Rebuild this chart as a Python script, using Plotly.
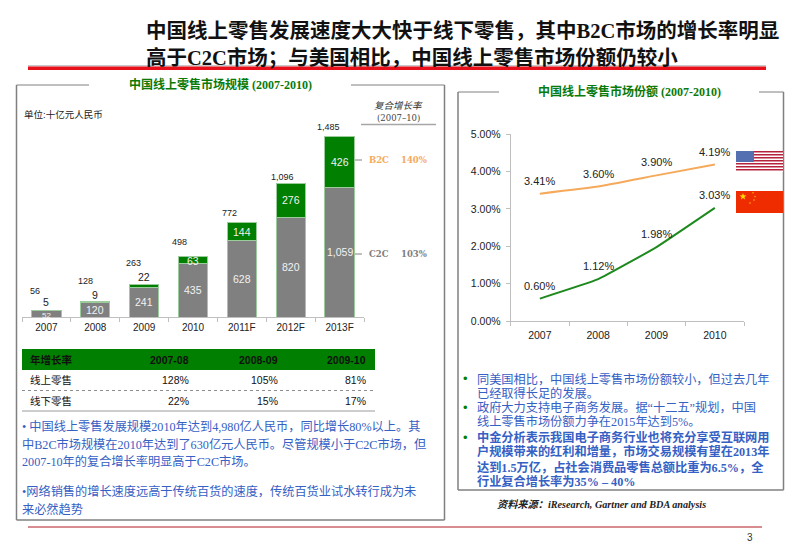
import math
import plotly.graph_objects as go

W, H = 800, 553

# ---------- data ----------
years_left = ["2007", "2008", "2009", "2010", "2011F", "2012F", "2013F"]
c2c = [52, 120, 241, 435, 628, 820, 1059]
b2c = [5, 9, 22, 63, 144, 276, 426]
totals = [56, 128, 263, 498, 772, 1096, 1485]

years_right = ["2007", "2008", "2009", "2010"]
us_share = [3.41, 3.60, 3.90, 4.19]
cn_share = [0.60, 1.12, 1.98, 3.03]
share_ticks = [0, 1, 2, 3, 4, 5]

table_header = ["年增长率", "2007-08", "2008-09", "2009-10"]
table_online = ["线上零售", "128%", "105%", "81%"]
table_offline = ["线下零售", "22%", "15%", "17%"]

title_lines = ["中国线上零售发展速度大大快于线下零售，其中B2C市场的增长率明显",
               "高于C2C市场；与美国相比，中国线上零售市场份额仍较小"]
left_notes = ["• 中国线上零售发展规模2010年达到4,980亿人民币，同比增长80%以上。其",
              "中B2C市场规模在2010年达到了630亿元人民币。尽管规模小于C2C市场，但",
              "2007-10年的复合增长率明显高于C2C市场。",
              "•网络销售的增长速度远高于传统百货的速度，传统百货业试水转行成为未",
              "来必然趋势"]
right_notes = ["同美国相比，中国线上零售市场份额较小，但过去几年",
               "已经取得长足的发展。",
               "政府大力支持电子商务发展。据“十二五”规划，中国",
               "线上零售市场份额力争在2015年达到5%。",
               "中金分析表示我国电子商务行业也将充分享受互联网用",
               "户规模带来的红利和增量，市场交易规模有望在2013年",
               "达到1.5万亿，占社会消费品零售总额比重为6.5%，全",
               "行业复合增长率为35% – 40%"]

# ---------- style / placement ----------
GREEN = "#007F00"
GREY = "#808080"
ORANGE = "#F5A95B"
LINE_GREEN = "#1E8A1E"
BLUE = "#3560C4"
CJK = "Noto Sans CJK SC"
SERIF = f"Liberation Serif, {CJK}"
SANS = f"Liberation Sans, {CJK}"
MONO = f"DejaVu Serif, {CJK}"

total_dx = [-11, -10, -11, -14, -12, -8, -11]
total_dy = [19, 20, 22, 14, 10, 6, 9]
b2c_dy = [8, 7, 9, -1, 0, 0, 0]
c2c_dy = [-2, 0, 0, 0, 0, 0, 0]

def px(x):
    return x / W

def py(y):
    return 1 - y / H

annotations = []
shapes = []

def text(x, y, s, size, color="#222", anchor="left", bold=False, italic=False,
         family=SERIF):
    if bold:
        s = f"<b>{s}</b>"
    if italic:
        s = f"<i>{s}</i>"
    font = dict(size=size, color=color, family=family)
    annotations.append(dict(x=px(x), y=py(y), xref="paper", yref="paper", text=s,
                            showarrow=False, xanchor=anchor, yanchor="middle",
                            font=font, borderpad=0, borderwidth=0))

def line(x0, y0, x1, y1, color, width=1, dash="solid"):
    shapes.append(dict(type="line", xref="paper", yref="paper", x0=px(x0), x1=px(x1),
                       y0=py(y0), y1=py(y1), line=dict(color=color, width=width, dash=dash)))

def rect(x0, y0, x1, y1, color):
    shapes.append(dict(type="rect", xref="paper", yref="paper", x0=px(x0), x1=px(x1),
                       y0=py(y0), y1=py(y1), fillcolor=color, line=dict(width=0), layer="above"))

def star(cx, cy, r, color="#FFD800"):
    pts = []
    for i in range(10):
        a = -math.pi / 2 + i * math.pi / 5
        rr = r if i % 2 == 0 else r * 0.4
        pts.append((px(cx + rr * math.cos(a)), py(cy + rr * math.sin(a))))
    path = "M" + " L".join(f"{a:.5f},{b:.5f}" for a, b in pts) + " Z"
    shapes.append(dict(type="path", xref="paper", yref="paper", path=path,
                       fillcolor=color, line=dict(width=0), layer="above"))

# ---------- figure ----------
xl = list(range(len(years_left)))
xr = list(range(len(years_right)))

fig = go.Figure()
fig.add_bar(x=xl, y=c2c, marker=dict(color=GREY, line=dict(color="#9CCB9C", width=1)),
            xaxis="x", yaxis="y", width=0.6, hoverinfo="skip")
fig.add_bar(x=xl, y=b2c, marker=dict(color=GREEN, line=dict(color="#9CCB9C", width=1)),
            xaxis="x", yaxis="y", width=0.6, hoverinfo="skip")
fig.add_scatter(x=xr, y=us_share, mode="lines", xaxis="x2", yaxis="y2",
                line=dict(color=ORANGE, width=2, shape="spline", smoothing=0.3), hoverinfo="skip")
fig.add_scatter(x=xr, y=cn_share, mode="lines", xaxis="x2", yaxis="y2",
                line=dict(color=LINE_GREEN, width=2, shape="spline", smoothing=0.3), hoverinfo="skip")

# bar labels
for i in xl:
    annotations.append(dict(x=i, y=c2c[i] / 2, xref="x", yref="y", text=f"{c2c[i]:,}", showarrow=False,
                            yanchor="middle", yshift=c2c_dy[i],
                            font=dict(size=10.5 if c2c_dy[i] == 0 else 8, color="#F2F2F2", family=SANS)))
    annotations.append(dict(x=i, y=c2c[i] + b2c[i] / 2, xref="x", yref="y", text=str(b2c[i]), showarrow=False,
                            yshift=b2c_dy[i], yanchor="middle",
                            font=dict(size=10.5, color="#F2F2F2" if b2c_dy[i] <= 0 else "#222", family=SANS)))
    annotations.append(dict(x=i, y=totals[i], xref="x", yref="y", text=f"{totals[i]:,}", showarrow=False,
                            xshift=total_dx[i], yshift=total_dy[i], yanchor="middle",
                            font=dict(size=9, color="#222", family=SANS)))

# line labels
for series in (us_share, cn_share):
    for i in xr:
        annotations.append(dict(x=i, y=series[i], xref="x2", yref="y2", text=f"{series[i]:.2f}%", showarrow=False,
                                yshift=13, yanchor="middle", font=dict(size=11, color="#222", family=SANS)))

# header
text(146, 31, title_lines[0], 20.5, "#111", bold=True)
text(146, 57, title_lines[1], 20.5, "#111", bold=True)
rect(28, 65, 766, 66.5, "#C9C9C9")
rect(28, 66.5, 766, 70, "#E8101A")

# left panel frame
box = "#808080"
line(16.5, 85, 89, 85, box)
line(351, 85, 444.5, 85, box)
line(16.5, 85, 16.5, 520, box, 1.5)
line(444.5, 85, 444.5, 520, box, 1.5)
line(16.5, 520, 444.5, 520, box, 1.5)
text(220, 85, "<b>中国线上零售市场规模</b> <b>(2007-2010)</b>", 12, "#0A7A0A", "center")

# right panel frame
line(458, 92, 499, 92, box)
line(759, 92, 783.5, 92, box)
line(458, 92, 458, 490, box, 1.5)
line(783.5, 92, 783.5, 490, box, 1.5)
line(458, 490, 783.5, 490, box, 1.5)
text(629, 91, "<b>中国线上零售市场份额</b> <b>(2007-2010)</b>", 12, "#0A7A0A", "center")

# left chart notes
text(24, 114, "单位:十亿元人民币", 9.5, "#222", family=SANS)
text(398, 105, "复合增长率", 9.5, "#333", "center", italic=True, family=SANS)
text(398, 118, "(2007–10)", 8.5, "#444", "center", family=MONO)
line(361, 124.5, 436, 124.5, "#A6A6A6", 1.5)
line(355, 160, 362, 160, "#808080")
line(355, 254, 362, 254, "#808080")
text(369, 160, "B2C", 8.5, ORANGE, bold=True, family=MONO)
text(427, 160, "140%", 8.5, ORANGE, "right", bold=True, family=MONO)
text(369, 254, "C2C", 8.5, GREY, bold=True, family=MONO)
text(427, 254, "103%", 8.5, GREY, "right", bold=True, family=MONO)

# table
rect(22, 349, 375, 370, GREEN)
col_x = [189, 278, 366]
for row, y, bold in ((table_header, 360, True), (table_online, 380, False), (table_offline, 401, False)):
    c = "#111"
    text(30, y, row[0], 10.5, c, bold=bold, family=SANS)
    for cx, v in zip(col_x, row[1:]):
        text(cx, y, v, 10.5, c, "right", bold=bold, family=SANS)
line(22, 390.5, 375, 390.5, "#8C8C8C", 1, "dot")
line(22, 411, 375, 411, "#BDBDBD", 1.5)

# left notes
for y, s in zip([426, 444, 461, 491, 509], left_notes):
    text(22, y, s, 12.2, BLUE)

# right notes
right_y = [379, 393, 407, 421, 437, 451, 467, 481]
for i, (y, s) in enumerate(zip(right_y, right_notes)):
    text(477, y, s, 12.2, BLUE, bold=i >= 4)
for y in (378, 407, 437):
    text(465, y, "•", 13, GREEN, "center", family=SANS)

text(497, 504, "资料来源：iResearch, Gartner and BDA analysis", 10.2, "#222", bold=True, italic=True)

# footer
line(28, 527, 762, 527, "#B01C22", 1)
text(750, 537, "3", 10, "#333", "center", family=SANS)

# flags
rect(736, 151, 783, 172, "#FFFFFF")
for k in range(7):
    rect(736, 151 + k * 3, 783, 152.5 + k * 3, "#B5223C")
rect(736, 151, 754, 162, "#5470B0")
rect(736, 191, 783, 213, "#EE2C00")
star(743, 196.5, 3.6)
for cx, cy in [(753, 192.8), (755, 196.5), (754, 200), (750, 203)]:
    star(cx, cy, 1.1)

axis_grey = "#BFBFBF"
fig.update_layout(
    width=W, height=H, margin=dict(l=0, r=0, t=0, b=0, pad=0, autoexpand=False), autosize=False,
    paper_bgcolor="white", plot_bgcolor="rgba(0,0,0,0)", showlegend=False, barmode="stack",
    annotations=annotations, shapes=shapes,
    xaxis=dict(domain=[px(22), px(364)], range=[-0.5, len(xl) - 0.5], tickmode="array", tickvals=xl,
               ticktext=years_left, ticks="", showline=True, linecolor=axis_grey, showgrid=False, zeroline=False,
               tickangle=0, tickfont=dict(size=10, color="#222", family=SANS), automargin=False,
               ticklabelstandoff=1,
               minor=dict(ticks="outside", ticklen=4, tickcolor=axis_grey, tick0=-0.5, dtick=1, showgrid=False)),
    yaxis=dict(domain=[py(317), py(134.2)], range=[0, 1500], visible=False),
    xaxis2=dict(domain=[px(510.7), px(744)], range=[-0.5, len(xr) - 0.5], tickmode="array", tickvals=xr,
                ticktext=years_right, ticks="", showline=True, linecolor=axis_grey, showgrid=False, zeroline=False,
                anchor="y2", tickangle=0, tickfont=dict(size=10.5, color="#222", family=SANS), automargin=False,
                ticklabelstandoff=4,
                minor=dict(ticks="outside", ticklen=4, tickcolor=axis_grey, tick0=-0.5, dtick=1, showgrid=False)),
    yaxis2=dict(domain=[py(321), py(134.3)], range=[0, 5], tickvals=share_ticks,
                ticktext=[f"{t:.2f}%" for t in share_ticks], ticks="outside", ticklen=4, automargin=False,
                ticklabelstandoff=3,
                tickcolor=axis_grey, linecolor=axis_grey, showline=True, showgrid=False, anchor="x2", zeroline=False,
                tickfont=dict(size=10.5, color="#222", family=SANS)),
)
fig.write_html("out.html", config=dict(displayModeBar=False))

with open("out.html", encoding="utf-8") as f:
    page = f.read()
page = page.replace("<body>", '<body style="margin:0;overflow:hidden">', 1)
with open("out.html", "w", encoding="utf-8") as f:
    f.write(page)
